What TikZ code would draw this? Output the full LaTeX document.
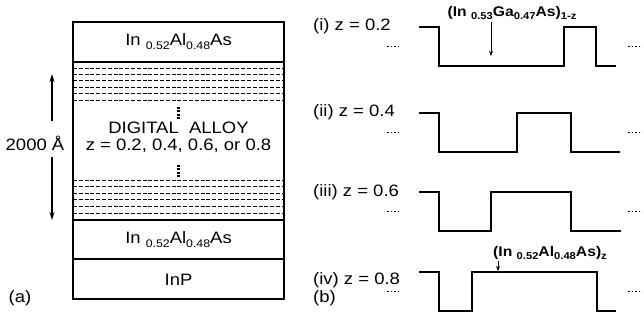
\documentclass[tikz,border=0pt]{standalone}
\usepackage{fontspec}
\setmainfont{Liberation Sans}[FakeStretch=1.12]
\usetikzlibrary{arrows.meta}
\newcommand\subr[1]{\raisebox{-0.45ex}{\fontsize{11}{11}\selectfont #1}}
\newcommand\subb[1]{\raisebox{-0.45ex}{\fontsize{10}{10}\selectfont\bfseries #1}}
\begin{document}
\begin{tikzpicture}[x=1pt,y=-1pt,
  txt/.style={font=\fontsize{16.5}{18}\selectfont, inner sep=0pt},
  lbl/.style={txt, anchor=west},
  bl/.style={font=\fontsize{14}{16}\selectfont\bfseries, inner sep=0pt},
  layer/.style={line width=1.2pt},
  wave/.style={line width=1.4pt, line join=miter},
  dl/.style={dash pattern=on 4pt off 1.8pt, line width=0.7pt},
  vdots/.style={line width=2.2pt, dash pattern=on 2pt off 1.4pt},
  hdots/.style={line width=1.7pt, dash pattern=on 1.6pt off 1.9pt},
  arr/.style={-{Stealth[length=8pt,width=5pt]}, line width=1.2pt},
  sarr/.style={-{Stealth[length=5pt,width=4pt]}, line width=1pt}]
\useasboundingbox (0,0) rectangle (644,320);
% ---- panel (a)
\draw[layer] (73,22) rectangle (284,299);
\draw[layer] (73,62) -- (284,62);
\draw[layer] (73,220) -- (284,220);
\draw[layer] (73,259) -- (284,259);
\foreach \yy in {68,74.4,80.8,87.2,93.6,100} \draw[dl] (73,\yy) -- (284,\yy);
\foreach \yy in {180,186.6,193.2,199.8,206.4,213} \draw[dl] (73,\yy) -- (284,\yy);
\draw[vdots] (178.5,107) -- (178.5,120);
\draw[vdots] (178.5,165) -- (178.5,178);
\node[txt] (top) at (178.5,42) {In \subr{0.52}Al\subr{0.48}As};
\node[txt] (da) at (178.5,128) {DIGITAL\ \ ALLOY};
\node[txt] (dz) at (178.5,146) {z = 0.2, 0.4, 0.6, or 0.8};
\node[txt] (bot) at (178.5,240) {In \subr{0.52}Al\subr{0.48}As};
\node[txt] (inp) at (178.5,280) {InP};
\node[txt] (dim) at (35,143) {2000 Å};
\coordinate (a1) at (52,121);
\coordinate (atop) at (52,74);
\coordinate (a2) at (52,157);
\coordinate (abot) at (52,220);
\draw[arr] (a1) -- (atop);
\draw[arr] (a2) -- (abot);
\node[txt] (pa) at (20,298) {(a)};
% ---- panel (b)
\node[lbl] (l1) at (313,26) {(i) z = 0.2};
\node[lbl] (l2) at (313,112) {(ii) z = 0.4};
\node[lbl] (l3) at (313,192) {(iii) z = 0.6};
\node[lbl] (l4) at (313,280) {(iv) z = 0.8};
\node[lbl] (pb) at (313,298) {(b)};
\draw[wave] (419,27) -- (439,27) -- (439,66) -- (564,66) -- (564,27) -- (596,27) -- (596,66) -- (616,66);
\draw[wave] (419,113) -- (439,113) -- (439,152) -- (517,152) -- (517,113) -- (571,113) -- (571,152) -- (620,152);
\draw[wave] (419,192) -- (439,192) -- (439,231) -- (491,231) -- (491,192) -- (571,192) -- (571,231) -- (621,231);
\draw[wave] (419,272) -- (439,272) -- (439,311) -- (472,311) -- (472,272) -- (597,272) -- (597,311) -- (616,311);
\foreach \yy in {46.5,132.5,211.5,291.5} {
  \draw[hdots] (387,\yy) -- (401,\yy);
  \draw[hdots] (628,\yy) -- (642,\yy);
}
\node[bl] (ga) at (512,13) {(In \subb{0.53}Ga\subb{0.47}As)\subb{1-z}};
\coordinate (gat) at (491,56);
\draw[sarr] (ga.south -| gat) ++(0,2) -- (gat);
\node[bl] (al) at (550,253) {(In \subb{0.52}Al\subb{0.48}As)\subb{z}};
\coordinate (alt) at (498,271);
\draw[sarr] (al.south -| alt) ++(0,1) -- (alt);
\end{tikzpicture}
\end{document}
